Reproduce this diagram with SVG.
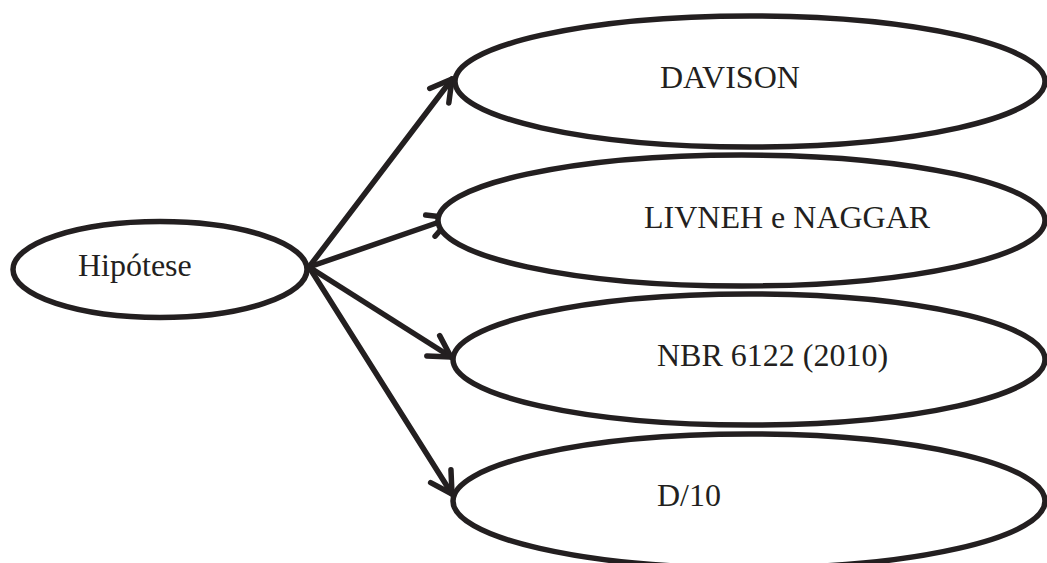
<svg xmlns="http://www.w3.org/2000/svg" width="1047" height="563" viewBox="0 0 1047 563">
  <style>
    .node { fill: #ffffff; stroke: #231f20; stroke-width: 5.5; }
    .label { font-family: "Liberation Serif", "Times New Roman", serif; font-size: 32px; fill: #231f20; }
    .edge { stroke: #231f20; stroke-width: 5.5; fill: none; stroke-linecap: round; }
  </style>
  <defs>
    <!-- open V arrowhead -->
    <marker id="arrow-open" markerUnits="userSpaceOnUse" markerWidth="40" markerHeight="40" refX="0" refY="0" orient="auto" overflow="visible">
      <path d="M -21 -12 L 0 0 L -21 12" fill="none" stroke="#231f20" stroke-width="5.5" stroke-linecap="round" stroke-linejoin="round"/>
    </marker>
    <!-- V arrowhead with a filled point -->
    <marker id="arrow-solid" markerUnits="userSpaceOnUse" markerWidth="40" markerHeight="40" refX="0" refY="0" orient="auto" overflow="visible">
      <path d="M -23 -11 L 0 0 L -21 12" fill="none" stroke="#231f20" stroke-width="5.5" stroke-linecap="round" stroke-linejoin="round"/>
      <path d="M -14 -7 L 1 0 L -13 8 Z" fill="#231f20"/>
    </marker>
  </defs>

  <rect width="1047" height="563" fill="#ffffff"/>

  <g id="connectors">
    <line class="edge" x1="309" y1="267" x2="452" y2="79" marker-end="url(#arrow-open)"/>
    <line class="edge" x1="309" y1="267" x2="451" y2="218" marker-end="url(#arrow-solid)"/>
    <line class="edge" x1="309" y1="267" x2="451" y2="357" marker-end="url(#arrow-open)"/>
    <line class="edge" x1="309" y1="267" x2="452" y2="494" marker-end="url(#arrow-open)"/>
  </g>

  <g id="node-hipotese">
    <ellipse class="node" cx="160" cy="269.5" rx="147" ry="48"/>
    <text class="label" x="78" y="276">Hipótese</text>
  </g>

  <g id="node-davison">
    <ellipse class="node" cx="750" cy="81.5" rx="295" ry="65.5"/>
    <text class="label" x="660" y="88">DAVISON</text>
  </g>

  <g id="node-livneh-naggar">
    <ellipse class="node" cx="741.5" cy="220.5" rx="303.5" ry="65.5"/>
    <text class="label" x="644" y="228">LIVNEH e NAGGAR</text>
  </g>

  <g id="node-nbr">
    <ellipse class="node" cx="749" cy="359.5" rx="296" ry="65.5"/>
    <text class="label" x="657" y="366">NBR 6122 (2010)</text>
  </g>

  <g id="node-d10">
    <ellipse class="node" cx="749" cy="501" rx="296" ry="67"/>
    <text class="label" x="657" y="506">D/10</text>
  </g>
</svg>
